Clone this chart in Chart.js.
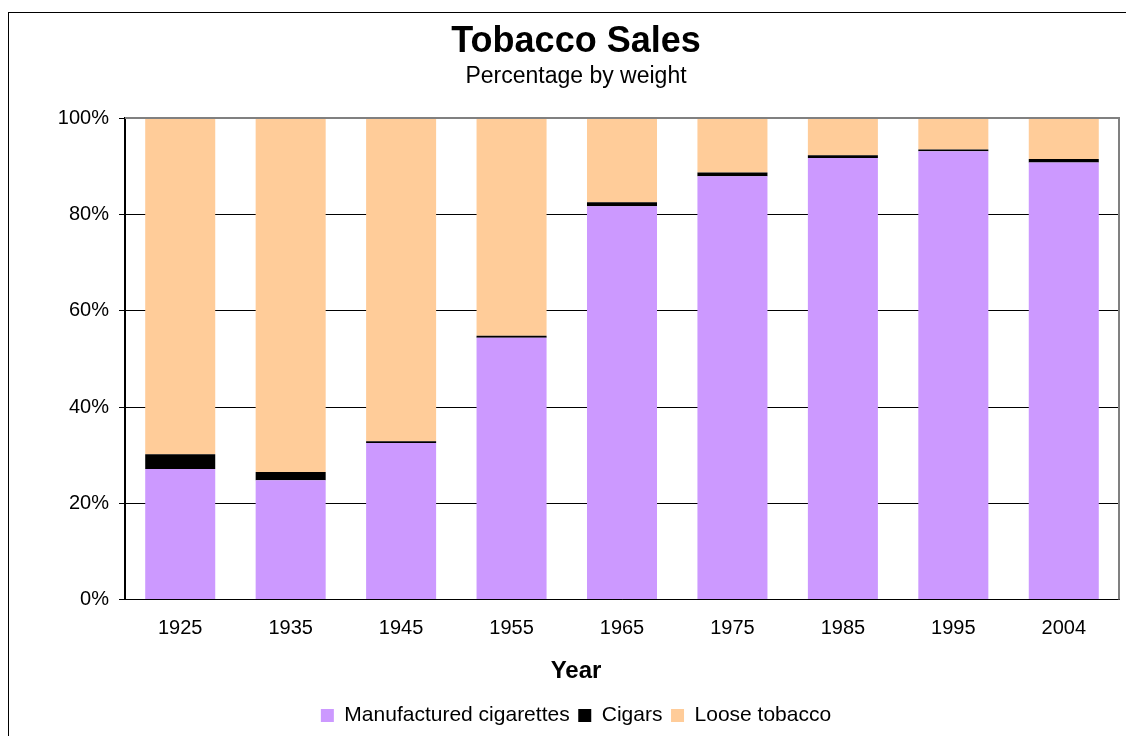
<!DOCTYPE html>
<html>
<head>
<meta charset="utf-8">
<title>Tobacco Sales</title>
<script src="https://cdn.jsdelivr.net/npm/chart.js@4/dist/chart.umd.min.js"></script>
<style>
  html, body { margin: 0; padding: 0; background: #fff; }
  #wrap { width: 1126px; height: 736px; }
</style>
</head>
<body>
<div id="wrap"><canvas id="chart" width="1126" height="736"></canvas></div>
<script>
// values (percent of weight)
const years = ["1925", "1935", "1945", "1955", "1965", "1975", "1985", "1995", "2004"];
const cigarettes = [27.1, 24.8, 32.5, 54.4, 81.7, 87.9, 91.7, 93.1, 90.8];
const cigars = [3.1, 1.7, 0.4, 0.4, 0.8, 0.8, 0.6, 0.4, 0.7];
const looseTobacco = [69.8, 73.5, 67.1, 45.2, 17.5, 11.3, 7.7, 6.5, 8.5];
const yTicks = [0, 20, 40, 60, 80, 100];

const FONT = "Arial, 'Liberation Sans', sans-serif";
Chart.defaults.font.family = FONT;
Chart.defaults.color = "#000";

// white page + outer frame, and the grey top/right border of the plot
const frame = {
  id: "frame",
  beforeDraw(chart) {
    const c = chart.ctx;
    c.save();
    c.fillStyle = "#fff";
    c.fillRect(0, 0, chart.width, chart.height);
    c.strokeStyle = "#000";
    c.lineWidth = 1;
    c.strokeRect(8.5, 12.5, chart.width + 40, chart.height + 40);
    c.restore();
  },
  afterDatasetsDraw(chart) {
    const { top, right, bottom, left } = chart.chartArea;
    const c = chart.ctx;
    c.save();
    c.strokeStyle = "#808080";
    c.lineWidth = 2;
    c.beginPath();
    c.moveTo(left, top);
    c.lineTo(right, top);
    c.lineTo(right, bottom);
    c.stroke();
    c.restore();
  }
};

const ctx = document.getElementById("chart");

new Chart(ctx, {
  type: "bar",
  data: {
    labels: years,
    datasets: [
      { label: "Manufactured cigarettes", data: cigarettes, backgroundColor: "#CC99FF", borderWidth: 0 },
      { label: "Cigars", data: cigars, backgroundColor: "#000000", borderWidth: 0 },
      { label: "Loose tobacco", data: looseTobacco, backgroundColor: "#FFCC99", borderWidth: 0 }
    ]
  },
  options: {
    responsive: false,
    animation: false,
    categoryPercentage: 1,
    barPercentage: 0.634,
    layout: { padding: { top: 14, left: 33, right: 7, bottom: 0 } },
    plugins: {
      title: {
        display: true,
        text: "Tobacco Sales",
        font: { size: 36, weight: "bold" },
        padding: { top: 6, bottom: 0 }
      },
      subtitle: {
        display: true,
        text: "Percentage by weight",
        font: { size: 23 },
        padding: { top: 0, bottom: 27.3 }
      },
      legend: {
        position: "bottom",
        title: {
          display: true,
          text: "Year",
          font: { size: 24, weight: "bold" },
          padding: { top: 3, bottom: 8 }
        },
        labels: {
          boxWidth: 13,
          boxHeight: 13,
          padding: 8.6,
          font: { size: 21 }
        }
      },
      tooltip: { enabled: false }
    },
    scales: {
      x: {
        stacked: true,
        grid: { display: false, drawTicks: false },
        border: { color: "#000", width: 1 },
        ticks: { padding: 16.5, font: { size: 20 } }
      },
      y: {
        stacked: true,
        min: 0,
        max: 100,
        afterBuildTicks(axis) {
          axis.ticks = yTicks.map(v => ({ value: v }));
        },
        afterFit(axis) {
          axis.width = 92;
        },
        grid: {
          color: c => (c.tick && c.tick.value === 100 ? "#808080" : "#000"),
          tickColor: "#000",
          tickLength: 6
        },
        border: { color: "#000", width: 2 },
        ticks: {
          padding: 10,
          font: { size: 20 },
          callback: value => value + "%"
        }
      }
    }
  },
  plugins: [frame]
});
</script>
</body>
</html>
